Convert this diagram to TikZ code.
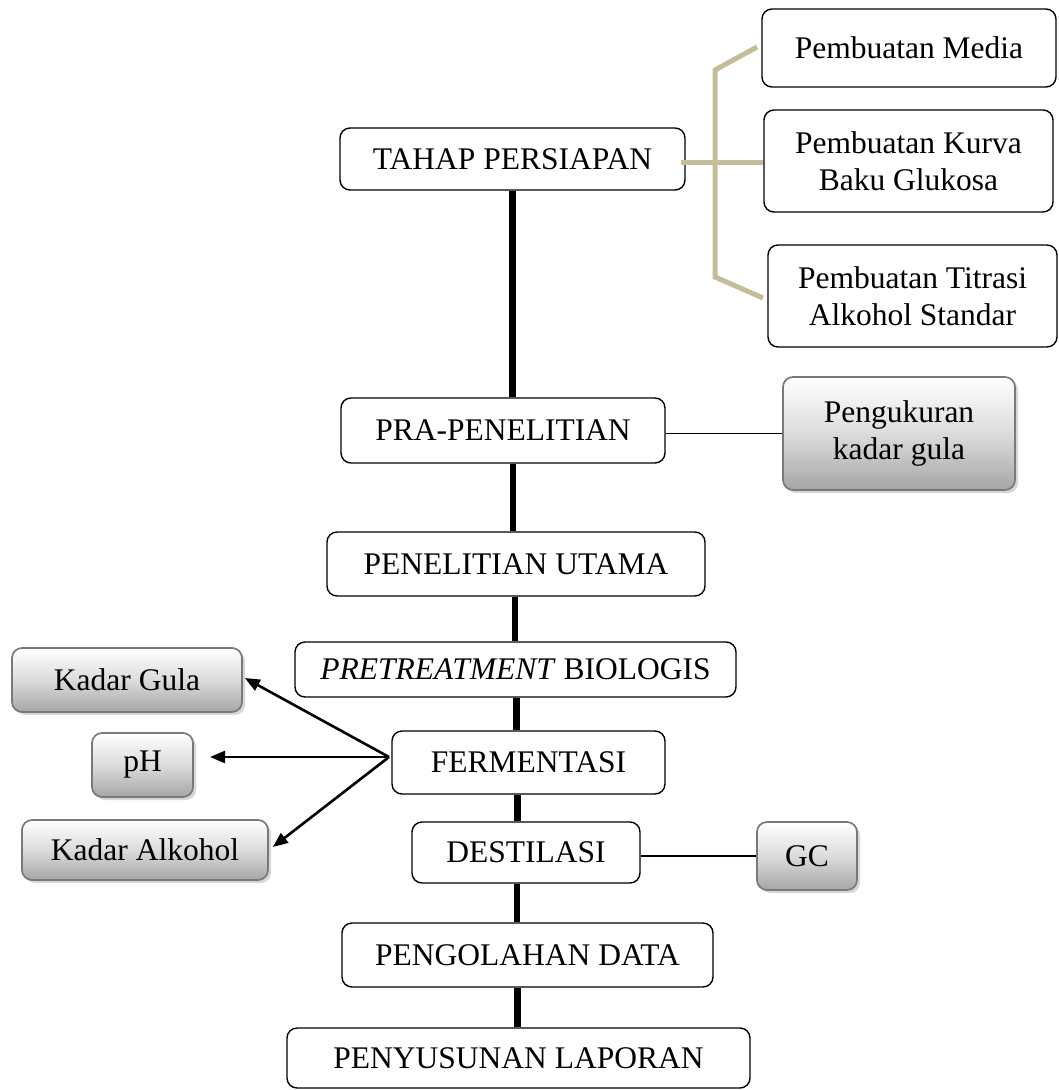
\documentclass[tikz,border=0pt]{standalone}
\usepackage{fontspec}
\setmainfont{Liberation Serif}
\usetikzlibrary{arrows.meta,shadows}
\definecolor{tan}{HTML}{C4BD97}
\begin{document}
\begin{tikzpicture}[x=1pt,y=-1pt,
  box/.style={draw, rounded corners=10pt, line width=1.4pt, align=center, inner sep=0pt,
    font=\fontsize{31.5}{37}\selectfont},
  gbox/.style={draw=gray!95!black, rounded corners=10pt, line width=1.7pt, align=center, inner sep=0pt,
    top color=white, bottom color=gray!70, middle color=gray!28,
    drop shadow={shadow xshift=3pt, shadow yshift=-3pt, fill=gray!45, opacity=0.7},
    font=\fontsize{31.5}{37}\selectfont},
  spine/.style={line width=6.5pt},
  thin/.style={line width=1.5pt},
  brk/.style={draw=tan, line width=5pt},
  arr/.style={line width=2.6pt, -{Triangle[length=15pt,width=12pt]}}]
\useasboundingbox (0,0) rectangle (1058,1090);

% main column
\node[box, minimum width=345pt, minimum height=62pt] (tahap) at (512.5,159) {TAHAP PERSIAPAN};
\node[box, minimum width=324pt, minimum height=65pt] (pra) at (503,430.5) {PRA-PENELITIAN};
\node[box, minimum width=378pt, minimum height=64pt] (utama) at (516,564) {PENELITIAN UTAMA};
\node[box, minimum width=441pt, minimum height=55pt] (pret) at (515.5,669.5) {\textit{PRETREATMENT} BIOLOGIS};
\node[box, minimum width=273pt, minimum height=63pt] (ferm) at (528.5,762.5) {FERMENTASI};
\node[box, minimum width=228pt, minimum height=61pt] (dest) at (526,852.5) {DESTILASI};
\node[box, minimum width=371pt, minimum height=64pt] (olah) at (527.5,955) {PENGOLAHAN DATA};
\node[box, minimum width=463pt, minimum height=60pt] (lapor) at (518.5,1058) {PENYUSUNAN LAPORAN};

% preparation sub-steps
\node[box, minimum width=294pt, minimum height=78pt] (media) at (909,48) {Pembuatan Media};
\node[box, minimum width=289pt, minimum height=102pt] (kurva) at (908.5,161) {Pembuatan Kurva\\Baku Glukosa};
\node[box, minimum width=289pt, minimum height=102pt] (titrasi) at (912.5,296) {Pembuatan Titrasi\\Alkohol Standar};

% grey boxes
\node[gbox, minimum width=232pt, minimum height=113pt] (ukur) at (899,433.5) {Pengukuran\\kadar gula};
\node[gbox, minimum width=230pt, minimum height=64pt] (gula) at (127,680) {Kadar Gula};
\node[gbox, minimum width=101pt, minimum height=64pt] (ph) at (142.5,765) {pH};
\node[gbox, minimum width=246pt, minimum height=60pt] (alk) at (145,850) {Kadar Alkohol};
\node[gbox, minimum width=100pt, minimum height=68pt] (gc) at (807,856) {GC};

% spine
\draw[spine] (tahap.south) -- (tahap.south |- pra.north);
\draw[spine] ([xshift=10pt]pra.south) -- ([xshift=10pt]pra.south |- utama.north);
\draw[spine] ([xshift=-1pt]utama.south) -- ([xshift=-1pt]utama.south |- pret.north);
\draw[spine] ([xshift=1pt]pret.south) -- ([xshift=1pt]pret.south |- ferm.north);
\draw[spine] ([xshift=-11pt]ferm.south) -- ([xshift=-11pt]ferm.south |- dest.north);
\draw[spine] ([xshift=-9pt]dest.south) -- ([xshift=-9pt]dest.south |- olah.north);
\draw[spine] ([xshift=-10pt]olah.south) -- ([xshift=-10pt]olah.south |- lapor.north);

% bracket
\coordinate (bt) at (715,70);
\coordinate (bb) at (715,277);
\coordinate (bm) at (763,162);
\draw[brk] (757,47) -- (bt) -- (bb) -- (763,298);
\draw[brk] ([xshift=-5pt]tahap.east |- bm) -- (bm);

% thin connectors
\draw[thin] (pra.east |- ukur.west) -- (ukur.west);
\draw[thin] (dest.east |- gc.west) -- (gc.west);

% arrows from FERMENTASI
\coordinate (fo) at (389,757);
\coordinate (phend) at (210,757);
\draw[arr] (fo) -- ([xshift=2pt,yshift=2pt]gula.east);
\draw[arr] (fo) -- (phend);
\draw[arr] (fo) -- ([xshift=4pt,yshift=3pt]alk.east);
\end{tikzpicture}
\end{document}
